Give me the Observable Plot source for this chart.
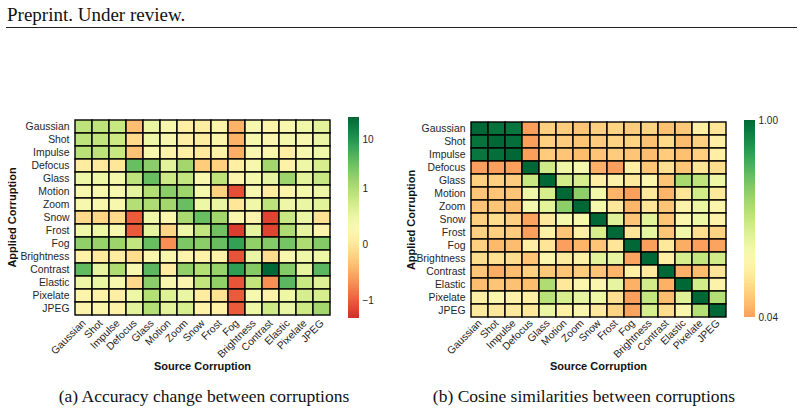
<!DOCTYPE html>
<html>
<head>
<meta charset="utf-8">
<script src="https://cdn.jsdelivr.net/npm/d3@7"></script>
<script src="https://cdn.jsdelivr.net/npm/@observablehq/plot@0.6"></script>
<style>
  body { margin: 0; background: #fff; width: 804px; height: 413px; position: relative; overflow: hidden; font-family: "Liberation Sans", Arial, sans-serif; }
  .abs { position: absolute; }
  #header { left: 7px; top: 4px; font-family: "Liberation Serif", "Times New Roman", serif; font-size: 19px; color: #111; white-space: nowrap; }
  #rule { left: 6px; top: 27px; width: 791px; height: 1px; background: #222; }
  .cap { font-family: "Liberation Serif", "Times New Roman", serif; font-size: 17.5px; color: #111; white-space: nowrap; transform: translateX(-50%); }
  svg text { fill: #262626; }
  g[aria-label$="axis label"] text { font-weight: bold; font-size: 11px; fill: #111; }
</style>
</head>
<body>
<div id="header" class="abs">Preprint. Under review.</div>
<div id="rule" class="abs"></div>
<div id="capA" class="abs cap" style="left:204px; top:386px;">(a) Accuracy change between corruptions</div>
<div id="capB" class="abs cap" style="left:584px; top:386px;">(b) Cosine similarities between corruptions</div>
<script>
// Corruption types, used for both axes (rows = applied, columns = source)
const corruptions = ["Gaussian", "Shot", "Impulse", "Defocus", "Glass", "Motion", "Zoom", "Snow",
  "Frost", "Fog", "Brightness", "Contrast", "Elastic", "Pixelate", "JPEG"];

// (a) accuracy change, one row per applied corruption
const accuracyChange = [
  [0.90, 0.90, 0.82, -0.37, 0.50, 0.30, 0.11, 0.07, 0.23, -0.46, 0.30, 0.19, 0.30, 0.42, 0.58],
  [0.90, 0.86, 0.78, -0.13, 0.46, 0.30, 0.11, 0.07, 0.23, -0.46, 0.30, 0.26, 0.38, 0.30, 0.50],
  [0.94, 0.90, 0.82, -0.33, 0.30, 0.19, 0.11, 0.03, 0.15, -0.48, 0.26, 0.26, 0.11, 0.30, 0.42],
  [0.07, 0.03, 0.00, 3.22, 1.93, 0.58, 1.29, -0.25, -0.21, 0.11, 0.30, 1.29, 0.15, 0.46, 0.70],
  [0.46, 0.46, 0.38, 0.90, 3.22, 0.78, 0.86, 0.30, 0.90, 0.19, 0.38, 0.54, 1.43, 0.58, 0.82],
  [0.30, 0.30, 0.30, 0.54, 0.98, 1.93, 1.43, 0.38, -0.21, -1.29, 0.30, 0.07, 0.19, 0.38, 0.46],
  [0.30, 0.30, 0.30, 0.98, 1.05, 1.29, 3.22, 0.46, 0.50, 0.00, 0.42, 0.90, 0.46, 0.50, 0.58],
  [-0.13, -0.17, -0.13, -1.05, 0.42, 0.26, 1.17, 3.22, 1.29, 0.26, 0.19, -1.58, 0.82, 0.50, -0.05],
  [0.42, 0.46, 0.30, -1.05, 0.54, -0.17, 0.46, 0.86, 2.91, -1.74, 0.54, -1.58, 1.05, 0.54, 0.19],
  [1.75, 1.58, 1.43, 0.86, 3.22, -0.69, 2.38, 1.93, 3.22, 7.30, 1.75, 2.15, 2.63, 1.05, 2.15],
  [0.15, 0.03, 0.07, -0.09, 0.26, 0.30, 0.19, 0.15, 0.15, -1.17, 0.50, -0.09, 0.30, 0.42, 0.46],
  [3.60, 0.54, 1.05, 0.30, 3.94, 0.07, 1.75, 0.98, 1.58, 8.10, 2.15, 27.5, 2.15, 0.54, 3.94],
  [0.46, 0.50, 0.30, -0.13, 1.93, 0.30, 0.26, 0.86, 1.75, -1.17, 0.86, -0.69, 3.94, 0.82, 0.62],
  [0.19, 0.15, 0.11, 0.46, 0.98, 0.62, 0.50, 0.07, -0.05, -1.05, 0.34, 0.15, 0.46, 0.70, 0.70],
  [0.19, 0.23, 0.15, 0.58, 0.98, 0.58, 0.70, 0.15, 0.15, -1.05, 0.46, 0.78, 0.50, 0.78, 1.29]
];

// (b) cosine similarity, one row per applied corruption
const cosineSimilarity = [
  [1.00, 0.97, 0.96, 0.04, 0.16, 0.15, 0.13, 0.16, 0.17, 0.15, 0.17, 0.12, 0.14, 0.27, 0.23],
  [0.97, 1.00, 0.98, 0.04, 0.16, 0.15, 0.13, 0.15, 0.17, 0.17, 0.12, 0.19, 0.11, 0.16, 0.27],
  [0.96, 0.98, 1.00, 0.04, 0.15, 0.13, 0.11, 0.13, 0.15, 0.13, 0.11, 0.15, 0.12, 0.16, 0.27],
  [0.04, 0.04, 0.04, 1.00, 0.49, 0.39, 0.36, 0.08, 0.04, 0.27, 0.13, 0.21, 0.13, 0.23, 0.20],
  [0.16, 0.16, 0.15, 0.51, 1.00, 0.48, 0.47, 0.27, 0.28, 0.24, 0.32, 0.13, 0.59, 0.53, 0.39],
  [0.13, 0.13, 0.13, 0.39, 0.47, 1.00, 0.65, 0.37, 0.09, 0.04, 0.24, 0.09, 0.23, 0.48, 0.24],
  [0.13, 0.13, 0.11, 0.36, 0.43, 0.65, 1.00, 0.36, 0.24, 0.09, 0.23, 0.13, 0.29, 0.40, 0.31],
  [0.16, 0.20, 0.16, 0.05, 0.24, 0.36, 0.35, 1.00, 0.44, 0.13, 0.43, 0.13, 0.32, 0.39, 0.29],
  [0.16, 0.16, 0.15, 0.04, 0.28, 0.13, 0.27, 0.47, 1.00, 0.23, 0.41, 0.13, 0.37, 0.21, 0.17],
  [0.16, 0.10, 0.11, 0.27, 0.23, 0.04, 0.09, 0.13, 0.23, 1.00, 0.04, 0.24, 0.07, 0.04, 0.05],
  [0.20, 0.21, 0.20, 0.13, 0.32, 0.25, 0.28, 0.43, 0.41, 0.05, 1.00, 0.27, 0.47, 0.52, 0.48],
  [0.13, 0.07, 0.11, 0.16, 0.14, 0.13, 0.15, 0.13, 0.09, 0.27, 0.25, 1.00, 0.08, 0.11, 0.23],
  [0.11, 0.13, 0.12, 0.11, 0.57, 0.24, 0.32, 0.32, 0.41, 0.08, 0.48, 0.08, 1.00, 0.48, 0.29],
  [0.27, 0.32, 0.29, 0.27, 0.55, 0.47, 0.41, 0.39, 0.21, 0.04, 0.52, 0.11, 0.44, 1.00, 0.56],
  [0.25, 0.24, 0.25, 0.24, 0.40, 0.28, 0.32, 0.25, 0.17, 0.05, 0.47, 0.20, 0.32, 0.56, 1.00]
];

// Colour bar ranges and tick labels
const accuracyExtent = [-2.3, 27.5];
const accuracyTicks = [-1, 0, 1, 10];
const accuracyTickLabels = ["\u22121", "0", "1", "10"];
const cosineExtent = [0.04, 1.0];
const cosineTicks = [0.04, 1.0];
const cosineTickLabels = ["0.04", "1.00"];

// Symmetric log: linear within [-1, 1], log10 beyond
const LINSCALE = 1.12;
const symlog = v => {
  const a = Math.abs(v);
  return Math.sign(v) * (a <= 1 ? a * LINSCALE : LINSCALE + Math.log10(a));
};
const identity = v => v;

// Truncated RdYlGn ramps
const accuracyColor = {
  type: "linear",
  domain: accuracyExtent.map(symlog),
  interpolate: t => d3.interpolateRdYlGn(0.094 + 0.906 * t),
  clamp: true
};
const cosineColor = {
  type: "linear",
  domain: cosineExtent,
  interpolate: t => d3.interpolateRdYlGn(0.28 + 0.72 * t),
  clamp: true
};

const FONT = "'Liberation Sans', Arial, sans-serif";

function place(node, left, top) {
  node.style.position = "absolute";
  node.style.left = left + "px";
  node.style.top = top + "px";
  document.body.appendChild(node);
}

function heatmap(matrix, toScale, color, marginTop, gridHeight, yLabelOffset) {
  const cells = matrix.flatMap((row, i) =>
    row.map((value, j) => ({applied: corruptions[i], source: corruptions[j], value})));
  return Plot.plot({
    width: 345,
    height: marginTop + gridHeight + 63,
    marginLeft: 72, marginRight: 13, marginTop, marginBottom: 63,
    style: {fontFamily: FONT, fontSize: "10.4px", color: "#262626", background: "transparent", overflow: "visible"},
    x: {domain: corruptions, padding: 0},
    y: {domain: corruptions, padding: 0},
    color,
    marks: [
      Plot.cell(cells, {x: "source", y: "applied", fill: d => toScale(d.value), inset: 0, stroke: "#000", strokeWidth: 1.4}),
      Plot.axisX({tickSize: 0, tickPadding: 4, tickRotate: -45, label: "Source Corruption", labelAnchor: "center", labelOffset: 52}),
      Plot.axisY({tickSize: 0, tickPadding: 3, label: "Applied Corruption", labelAnchor: "center", labelOffset: yLabelOffset})
    ]
  });
}

function colorbar(toScale, color, extent, ticks, labels, marginTop, barHeight) {
  const lo = toScale(extent[0]), hi = toScale(extent[1]);
  const n = 240;
  const steps = d3.range(n).map(i => ({
    y1: lo + (hi - lo) * i / n,
    y2: lo + (hi - lo) * (i + 1) / n
  }));
  const labelOf = new Map(ticks.map((v, i) => [toScale(v), labels[i]]));
  return Plot.plot({
    width: 50,
    height: marginTop + barHeight + 6,
    marginLeft: 8, marginRight: 31, marginTop, marginBottom: 6,
    style: {fontFamily: FONT, fontSize: "10px", color: "#262626", background: "transparent", overflow: "visible"},
    x: {domain: [0, 1], axis: null},
    y: {domain: [lo, hi], axis: null},
    color,
    marks: [
      Plot.rect(steps, {x1: 0, x2: 1, y1: "y1", y2: "y2", fill: d => (d.y1 + d.y2) / 2, shapeRendering: "crispEdges"}),
      Plot.axisY({anchor: "right", ticks: ticks.map(toScale), tickFormat: u => labelOf.get(u), tickSize: 0, tickPadding: 3, label: null})
    ]
  });
}

place(heatmap(accuracyChange, symlog, accuracyColor, 17, 200, 64), 0, 100);
place(colorbar(symlog, accuracyColor, accuracyExtent, accuracyTicks, accuracyTickLabels, 17, 201), 340, 100);
place(heatmap(cosineSimilarity, identity, cosineColor, 22, 195, 61), 396, 100);
place(colorbar(identity, cosineColor, cosineExtent, cosineTicks, cosineTickLabels, 20, 197), 736, 100);
</script>
</body>
</html>
